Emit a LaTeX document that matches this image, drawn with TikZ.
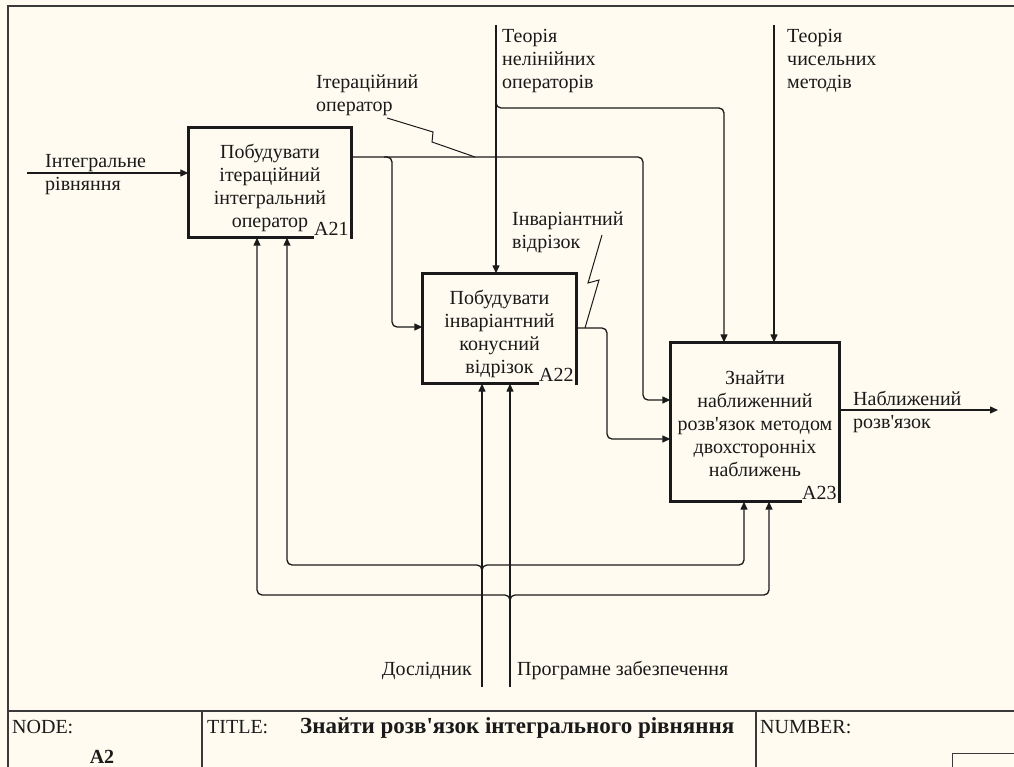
\documentclass[tikz,border=0pt]{standalone}
\usepackage{fontspec}
\setmainfont{Liberation Serif}[Ligatures=TeXOff]
\usetikzlibrary{arrows.meta,calc}
\definecolor{bg}{HTML}{FFFBF0}
\definecolor{ink}{HTML}{1A1A1A}
\definecolor{frameink}{HTML}{3A3A3A}
\begin{document}
\begin{tikzpicture}[x=1pt,y=-1pt,
  txt/.style={font=\fontsize{20}{23}\selectfont, inner sep=0pt, text=ink},
  lbl/.style={txt, align=left, anchor=north west},
  box/.style={draw=none, inner sep=0pt},
  boxtext/.style={txt, align=center},
  boxline/.style={draw=ink, line width=2.8pt, line join=miter},
  conn/.style={draw=ink, line width=1.3pt, rounded corners=5pt},
  arr/.style={conn, -{Triangle[length=8pt,width=7pt]}},
  squig/.style={draw=ink, line width=1pt},
  frame/.style={draw=frameink, line width=1.5pt},
  idx/.style={txt, anchor=base east}
]
\useasboundingbox (0,0) rectangle (1014,767);
\fill[bg] (0,0) rectangle (1014,767);

% outer frame and title block
\draw[frame] (1014,6) -- (8,6) -- (8,767);
\draw[frame] (8,711) -- (1014,711);
\draw[frame] (202,711) -- (202,767);
\draw[frame] (756,711) -- (756,767);
\draw[draw=frameink, line width=1pt] (1014,753) -- (952,753) -- (952,767);
\node[txt, anchor=base west] (node) at (12,733) {NODE:};
\node[txt, anchor=base, font=\fontsize{20}{23}\selectfont\bfseries] (nodenum) at (102,763) {A2};
\node[txt, anchor=base west] (title) at (207,733) {TITLE:};
\node[txt, anchor=base west, font=\fontsize{23}{26}\selectfont\bfseries] (titletext) at (300,733) {Знайти розв'язок інтегрального рівняння};
\node[txt, anchor=base west] (number) at (760,733) {NUMBER:};

% activity boxes
\node[box, minimum width=163pt, minimum height=110pt] (A21) at (270,182.5) {};
\node[box, minimum width=154pt, minimum height=110pt] (A22) at (499.5,328.5) {};
\node[box, minimum width=169pt, minimum height=159pt] (A23) at (755,422) {};
\node[boxtext] (A21t) at ($(A21.center)+(0,5)$) {Побудувати\\ітераційний\\інтегральний\\оператор};
\node[boxtext] (A22t) at ($(A22.center)+(0,5)$) {Побудувати\\інваріантний\\конусний\\відрізок};
\node[boxtext] (A23t) at ($(A23.center)+(0,1.5)$) {Знайти\\наближенний\\розв'язок методом\\двохсторонніх\\наближень};

\foreach \b/\cut in {A21/38, A22/38, A23/38}{
  \draw[boxline] ($(\b.south east)+(-\cut,0)$) -- (\b.south west) -- (\b.north west)
    -- (\b.north east) -- ($(\b.south east)+(0,1.4)$);
  \node[idx] (\b lab) at ($(\b.south east)+(-3,-2.5)$) {\b};
}

% label texts
\node[lbl] (lin) at (45,154) {Інтегральне\\рівняння};
\node[lbl] (liter) at (316,75) {Ітераційний\\оператор};
\node[lbl] (lnonlin) at (502,29) {Теорія\\нелінійних\\операторів};
\node[lbl] (lnum) at (787,29) {Теорія\\чисельних\\методів};
\node[lbl] (linv) at (512,212) {Інваріантний\\відрізок};
\node[lbl] (lout) at (853,391) {Наближений\\розв'язок};
\node[txt, anchor=base east] (lres) at (472,675) {Дослідник};
\node[txt, anchor=base west] (lsoft) at (517,675) {Програмне забезпечення};

% free ends
\coordinate (inS) at (27,173);
\coordinate (nonlinS) at (496,25);
\coordinate (numS) at (774,25);
\coordinate (outE) at (998,410);
\coordinate (resS) at (482,687);
\coordinate (softS) at (510,687);

% input
\draw[arr] (inS) -- (A21.west |- inS);
% A21 output -> A23 and branch -> A22
\draw[arr] (A21.east |- 0,157) -- (643,157) -- (643,400) -- (A23.west |- 0,400);
\draw[arr] (384,157) -- (392,157) -- (392,327) -- (A22.west |- 0,327);
% controls
\draw[arr] (nonlinS) -- (nonlinS |- A22.north);
\draw[arr] (496,100) -- (496,108) -- (724,108) -- (724,0 |- A23.north);
\draw[arr] (numS) -- (numS |- A23.north);
% A22 output -> A23
\draw[arr] (A22.east |- 0,328) -- (607,328) -- (607,439) -- (A23.west |- 0,439);
% A23 output
\draw[arr] (A23.east |- outE) -- (outE);
% mechanisms
\draw[arr] (resS) -- (resS |- A22.south);
\draw[arr] (softS) -- (softS |- A22.south);
\draw[arr] (482,573) -- (482,565) -- (287,565) -- (287,0 |- A21.south);
\draw[arr] (482,573) -- (482,565) -- (744,565) -- (744,0 |- A23.south);
\draw[arr] (510,603) -- (510,595) -- (257,595) -- (257,0 |- A21.south);
\draw[arr] (510,603) -- (510,595) -- (769,595) -- (769,0 |- A23.south);

% squiggles linking labels to arrows
\draw[squig] (387,118) -- (433,132) -- (432,142) -- (475,157);
\draw[squig] (602,235) -- (588,283) -- (599,280) -- (585,328);
\end{tikzpicture}
\end{document}
